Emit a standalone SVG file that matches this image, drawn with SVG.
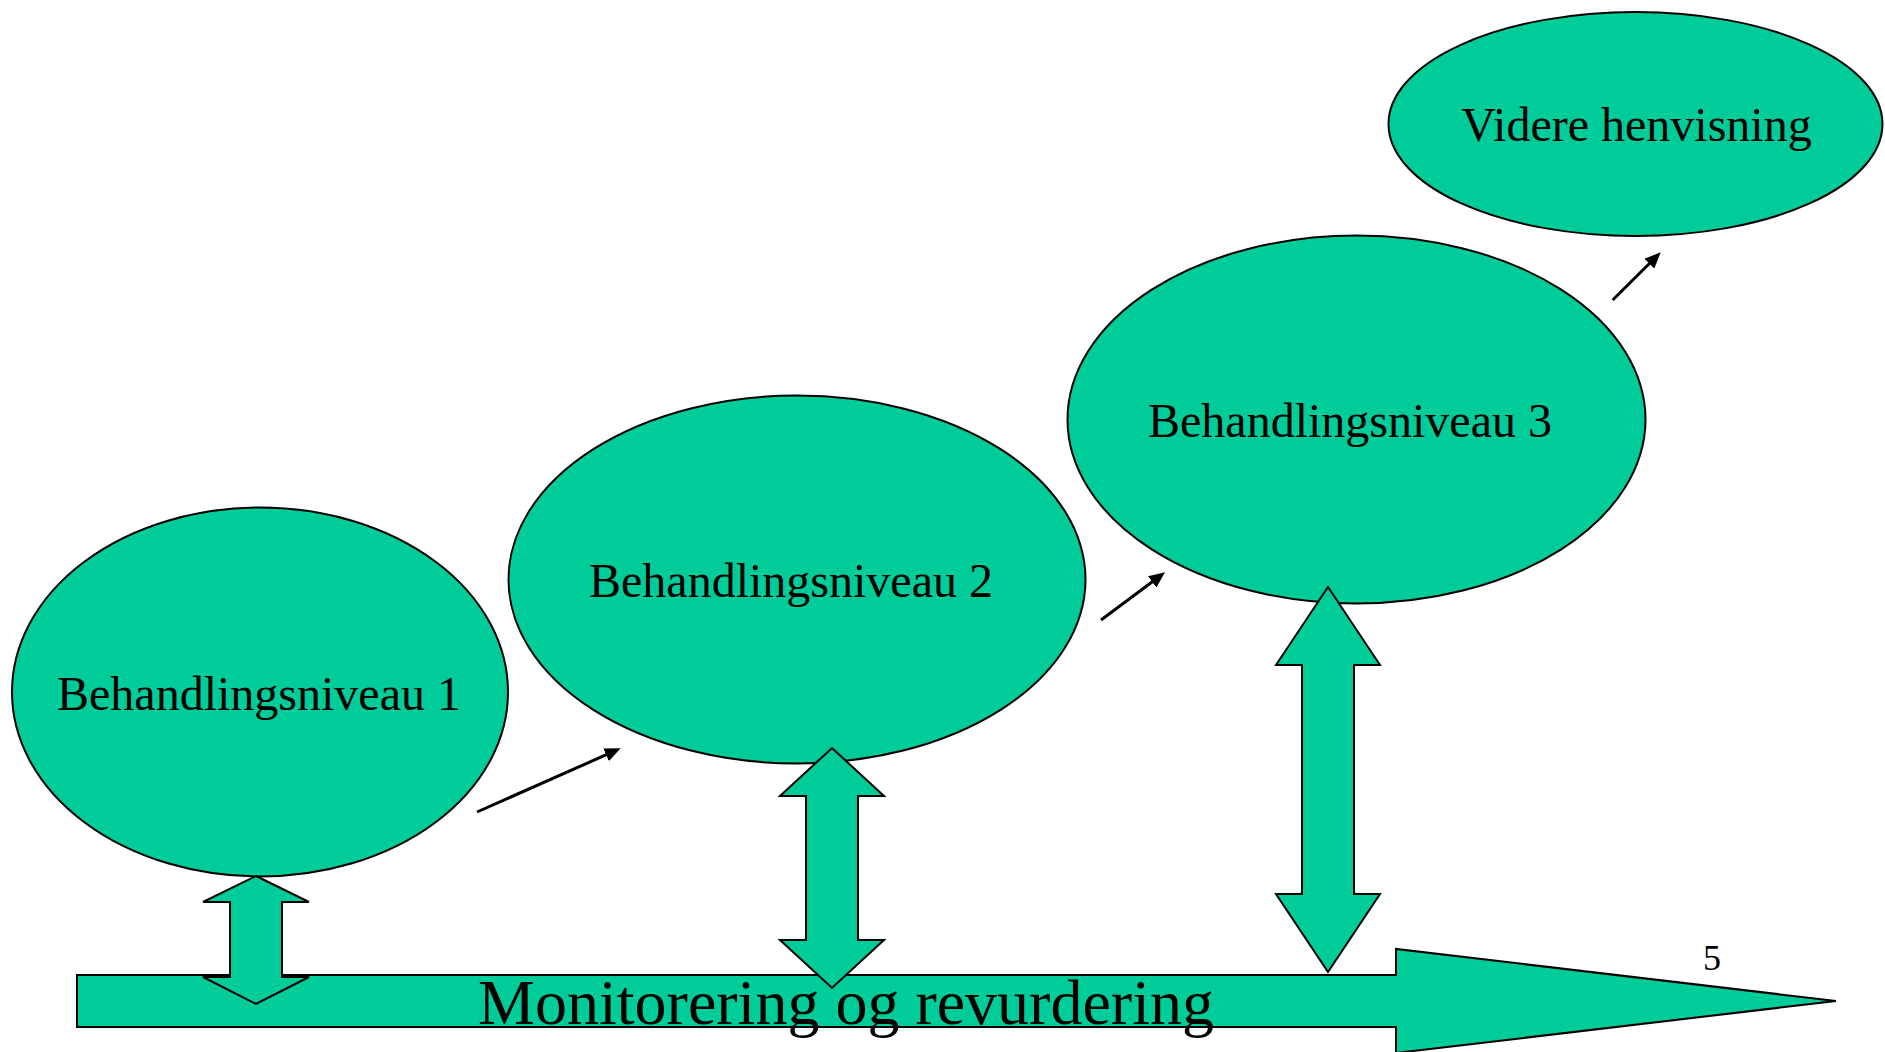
<svg xmlns="http://www.w3.org/2000/svg" width="1885" height="1052" viewBox="0 0 1885 1052">
  <defs>
    <style>
      .shape { fill: #00CC99; stroke: #000000; stroke-width: 2; stroke-linejoin: miter; }
      .label { font-family: "Liberation Serif", "Times New Roman", serif; fill: #000000; text-anchor: middle; }
      .lvl { font-size: 48px; }
      .link { fill: none; stroke: #000000; stroke-width: 3; }
    </style>
    <marker id="head" markerUnits="userSpaceOnUse" markerWidth="16" markerHeight="14" refX="4" refY="7" orient="auto">
      <path d="M0,0 L16,7 L0,14 z" fill="#000000"/>
    </marker>
  </defs>

  <rect width="1885" height="1052" fill="#ffffff"/>

  <!-- Level nodes -->
  <g id="level1">
    <ellipse class="shape" cx="260" cy="692" rx="248" ry="184.5"/>
    <text class="label lvl" x="259" y="710">Behandlingsniveau 1</text>
  </g>
  <g id="level2">
    <ellipse class="shape" cx="797" cy="579.5" rx="288.5" ry="184"/>
    <text class="label lvl" x="791" y="597">Behandlingsniveau 2</text>
  </g>
  <g id="level3">
    <ellipse class="shape" cx="1356.5" cy="419.5" rx="289" ry="184"/>
    <text class="label lvl" x="1350" y="437">Behandlingsniveau 3</text>
  </g>
  <g id="referral">
    <ellipse class="shape" cx="1635.5" cy="124" rx="247" ry="112"/>
    <text class="label lvl" x="1636.5" y="141">Videre henvisning</text>
  </g>

  <!-- Monitoring timeline -->
  <g id="monitoring">
    <polygon class="shape" points="77,975 1396,975 1396,949 1836,1001 1396,1053 1396,1027 77,1027"/>
    <text class="label" x="846" y="1024" font-size="64">Monitorering og revurdering</text>
  </g>

  <!-- Connectors -->
  <g id="connectors">
    <polygon class="shape" points="256,876 309,902 282,902 282,977 309,977 256,1004 203,977 230,977 230,902 203,902"/>
    <polygon class="shape" points="832,748 884,796 858,796 858,940 884,940 832,988 780,940 806,940 806,796 780,796"/>
    <polygon class="shape" points="1328,587 1380,665 1354,665 1354,894 1380,894 1328,972 1276,894 1302,894 1302,665 1276,665"/>
    <line class="link" x1="477" y1="812" x2="609.7" y2="753.2" marker-end="url(#head)"/>
    <line class="link" x1="1101" y1="620" x2="1155.4" y2="579.5" marker-end="url(#head)"/>
    <line class="link" x1="1612.7" y1="300" x2="1652.2" y2="260.8" marker-end="url(#head)"/>
  </g>

  <!-- Page number -->
  <text class="label" x="1712" y="970" font-size="36">5</text>
</svg>
